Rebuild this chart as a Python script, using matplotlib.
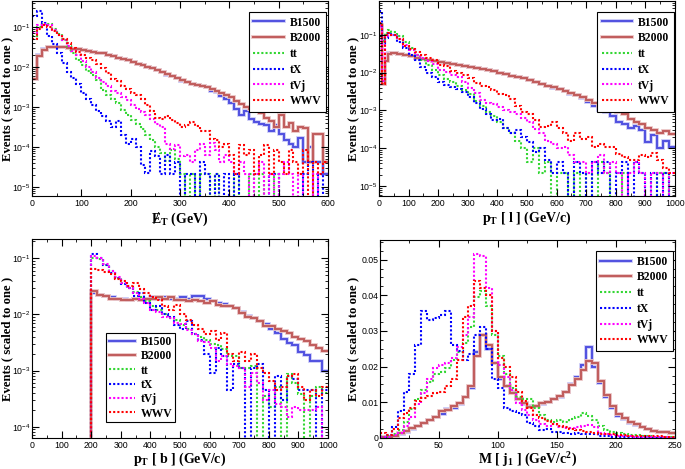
import matplotlib
matplotlib.use('Agg')
import matplotlib.pyplot as plt
import matplotlib.patheffects as pe
import numpy as np
from matplotlib.lines import Line2D
from matplotlib.ticker import (AutoMinorLocator, LogLocator, NullFormatter,
                               FuncFormatter, MultipleLocator)

plt.rcParams['font.family'] = ['Liberation Sans', 'DejaVu Sans']
plt.rcParams['mathtext.fontset'] = 'custom'
plt.rcParams['mathtext.rm'] = 'Liberation Serif:bold'
plt.rcParams['mathtext.it'] = 'Liberation Serif:bold'
plt.rcParams['mathtext.bf'] = 'Liberation Serif:bold'

names = ['B1500', 'B2000', 'tt', 'tX', 'tVj', 'WWV']

# ---- MET, 10 GeV bins
met_edges = np.arange(0, 610, 10)
met_b1500 = [0.005, 0.02, 0.028, 0.031, 0.032, 0.032, 0.031, 0.030, 0.029, 0.028,
             0.027, 0.026, 0.024, 0.023, 0.022, 0.020, 0.019, 0.017, 0.016, 0.0147,
             0.0135, 0.012, 0.011, 0.010, 0.0093, 0.0085, 0.0075, 0.0065, 0.006, 0.0052,
             0.0046, 0.0042, 0.0038, 0.0035, 0.0033, 0.0032, 0.0026, 0.0024, 0.0019, 0.0016,
             0.0013, 9e-4, 6.5e-4, 8e-4, 5e-4, 4.2e-4, 3.8e-4, 3.5e-4, 2.5e-4, 3.5e-4,
             2.1e-4, 1.5e-4, 1.2e-4, 1e-4, 1.7e-4, 4.2e-5, 1e-4, 4.2e-5, 4.2e-5, 2.1e-5]
met_b2000 = [0.005, 0.019, 0.027, 0.031, 0.032, 0.032, 0.031, 0.030, 0.029, 0.028,
             0.027, 0.026, 0.024, 0.023, 0.022, 0.020, 0.019, 0.017, 0.016, 0.0147,
             0.0135, 0.012, 0.011, 0.010, 0.0093, 0.0085, 0.0076, 0.0066, 0.006, 0.0053,
             0.0047, 0.0042, 0.0038, 0.0035, 0.0034, 0.0031, 0.0029, 0.0026, 0.0022, 0.0020,
             0.0018, 0.0014, 0.0012, 0.0010, 9e-4, 9.5e-4, 7e-4, 5.5e-4, 4.6e-4, 3.2e-4,
             6.5e-4, 3.2e-4, 4e-4, 2.6e-4, 3.2e-4, 3e-4, 4.2e-5, 2.1e-4, 2.1e-4, 4.2e-5]
met_tt = [0.06, 0.1, 0.13, 0.12, 0.09, 0.068, 0.048, 0.033, 0.022, 0.015,
          0.011, 0.0082, 0.0062, 0.0048, 0.0027, 0.002, 0.0016, 0.0013, 8.5e-4, 6.5e-4,
          4.8e-4, 3.8e-4, 2.8e-4, 2e-4, 1.5e-4, 1e-4, 7e-5, 4.6e-5, 8.4e-5, 5e-5,
          2.1e-5, 0, 2.1e-5, 0, 2.1e-5, 2.1e-5, 0, 2.1e-5, 0, 0,
          0, 2.1e-5, 0, 0, 2.1e-5, 0, 2.1e-5, 0, 0, 2.1e-5,
          0, 0, 0, 0, 0, 0, 0, 0, 0, 0]
met_tx = [0.19, 0.26, 0.13, 0.06, 0.038, 0.022, 0.013, 0.0075, 0.0052, 0.0038,
          0.0022, 0.0016, 0.0011, 8e-4, 6e-4, 4.5e-4, 3.2e-4, 4.6e-4, 2e-4, 1.2e-4,
          1.6e-4, 1e-4, 3.5e-5, 2.2e-5, 8e-5, 6e-5, 2.1e-5, 6.3e-5, 2.1e-5, 4.2e-5,
          0, 2.1e-5, 2.1e-5, 0, 4.2e-5, 2.1e-5, 0, 2.1e-5, 0, 2.1e-5,
          0, 2.1e-5, 0, 0, 0, 0, 0, 0, 2.1e-5, 2.1e-5,
          0, 0, 0, 0, 0, 2.1e-5, 4.2e-5, 0, 2.1e-5, 0]
met_tvj = [0.07, 0.11, 0.12, 0.11, 0.085, 0.065, 0.047, 0.033, 0.026, 0.02,
           0.0145, 0.01, 0.0075, 0.0055, 0.0042, 0.0034, 0.0026, 0.0022, 0.0018, 0.0015,
           0.0011, 9e-4, 7.5e-4, 6.5e-4, 5e-4, 3.8e-4, 3.2e-4, 1.2e-4, 9e-5, 1.1e-4,
           6e-5, 6.3e-5, 4.2e-5, 8.4e-5, 1.2e-4, 6.3e-5, 1.3e-4, 8.4e-5, 4.2e-5, 6.3e-5,
           4.2e-5, 2.1e-5, 4.2e-5, 2.1e-5, 0, 2.1e-5, 4.2e-5, 0, 2.1e-5, 0,
           2.1e-5, 4.2e-5, 2.1e-5, 0, 2.1e-5, 0, 0, 2.1e-5, 0, 0]
met_wwv = [0.05, 0.09, 0.11, 0.1, 0.08, 0.065, 0.05, 0.039, 0.03, 0.024,
           0.02, 0.017, 0.015, 0.012, 0.0095, 0.007, 0.005, 0.0045, 0.0034, 0.0028,
           0.0022, 0.002, 0.0016, 0.0011, 8e-4, 5.5e-4, 5e-4, 6e-4, 4.8e-4, 4e-4,
           3.2e-4, 3.5e-4, 4.2e-4, 3.4e-4, 2.6e-4, 2.6e-4, 1.6e-4, 1.5e-4, 1e-4, 1.2e-4,
           6.3e-5, 2.1e-5, 1.1e-4, 6.3e-5, 8.4e-5, 2.1e-5, 6.3e-5, 1.1e-4, 2.1e-5, 8.4e-5,
           4.2e-5, 2.1e-5, 8.4e-5, 4.2e-5, 2.1e-5, 8.4e-5, 0, 4.2e-5, 2.1e-5, 4.2e-5]

# ---- pT lepton
ptl_edges = np.r_[0, 10, 20, 30, np.arange(40, 1001, 20)]
ptl_b1500 = [0.16, 0.005, 0.022, 0.032,
             0.032, 0.031, 0.029, 0.028, 0.025, 0.023, 0.021, 0.02,
             0.019, 0.018, 0.017, 0.016, 0.015,
             0.014, 0.0135, 0.0127, 0.012, 0.011,
             0.0098, 0.009, 0.0082, 0.0075, 0.007,
             0.0063, 0.0057, 0.0049, 0.0045, 0.0040,
             0.0036, 0.0033, 0.0027, 0.0025, 0.0021,
             0.0017, 0.0013, 0.0010, 9e-4, 7e-4,
             5e-4, 4.5e-4, 3.5e-4, 3.8e-4, 3e-4,
             1.5e-4, 2.2e-4, 1e-4, 1.6e-4, 1.1e-4]
ptl_b2000 = [0.18, 0.005, 0.02, 0.031,
             0.032, 0.031, 0.029, 0.027, 0.025, 0.023, 0.021, 0.02,
             0.019, 0.018, 0.017, 0.016, 0.015,
             0.0142, 0.0135, 0.0125, 0.012, 0.011,
             0.0098, 0.009, 0.0082, 0.0076, 0.007,
             0.0063, 0.0056, 0.005, 0.0045, 0.0041,
             0.0037, 0.0033, 0.0029, 0.0026, 0.0023,
             0.0019, 0.0016, 0.0013, 0.0015, 0.0011,
             9e-4, 8e-4, 6e-4, 5e-4, 4.5e-4,
             3.5e-4, 3e-4, 2.5e-4, 2.8e-4, 2.4e-4]
ptl_tt = [0.2, 0.07, 0.11, 0.13,
          0.12, 0.09, 0.065, 0.045, 0.03, 0.022, 0.016, 0.012,
          0.0085, 0.0068, 0.0055, 0.0045, 0.0035,
          0.0027, 0.0018, 0.0013, 9e-4, 7e-4,
          5e-4, 3.5e-4, 2.5e-4, 1.6e-4, 1e-4,
          4.4e-5, 1e-4, 2.2e-5, 4.4e-5, 0,
          2.2e-5, 2.2e-5, 0, 2.2e-5, 0,
          2.2e-5, 0, 4.4e-5, 2.2e-5, 0,
          0, 2.2e-5, 0, 0, 0,
          0, 0, 2.2e-5, 2.2e-5, 0]
ptl_tx = [0.42, 0.06, 0.08, 0.11,
          0.1, 0.065, 0.045, 0.03, 0.021, 0.014, 0.01, 0.0075,
          0.0055, 0.0048, 0.0042, 0.0038, 0.003,
          0.0022, 0.0016, 0.0011, 8e-4, 5.5e-4,
          6e-4, 3.5e-4, 2.5e-4, 3e-4, 2e-4,
          1.5e-4, 8e-5, 1e-4, 5e-5, 2.2e-5,
          4.4e-5, 2.2e-5, 0, 4.4e-5, 2.2e-5,
          0, 4.4e-5, 2.2e-5, 4.4e-5, 0,
          2.2e-5, 4.4e-5, 0, 4.4e-5, 2.2e-5,
          0, 2.2e-5, 0, 2.2e-5, 0]
ptl_tvj = [0.17, 0.006, 0.09, 0.1,
           0.1, 0.075, 0.055, 0.04, 0.03, 0.024, 0.02, 0.017,
           0.012, 0.0105, 0.0085, 0.0075, 0.0055,
           0.004, 0.0029, 0.0019, 0.0016, 0.0015,
           0.0012, 0.001, 9e-4, 8e-4, 6.5e-4,
           5e-4, 3.2e-4, 2.5e-4, 1.6e-4, 1.3e-4,
           1e-4, 1.1e-4, 6.6e-5, 4.4e-5, 4.4e-5,
           2.2e-5, 4.4e-5, 6.6e-5, 2.2e-5, 4.4e-5,
           2.2e-5, 0, 2.2e-5, 4.4e-5, 2.2e-5,
           0, 2.2e-5, 2.2e-5, 0, 2.2e-5]
ptl_wwv = [0.2, 0.005, 0.1, 0.11,
           0.1, 0.075, 0.052, 0.042, 0.035, 0.03, 0.025, 0.021,
           0.016, 0.015, 0.011, 0.0095, 0.0088,
           0.007, 0.0052, 0.0045, 0.0042, 0.0035,
           0.0027, 0.0025, 0.002, 0.0013, 9e-4,
           8e-4, 5.5e-4, 3.7e-4, 4e-4, 5e-4,
           3.5e-4, 2.5e-4, 1.6e-4, 2.5e-4, 1.8e-4,
           2e-4, 1.1e-4, 1.3e-4, 1.1e-4, 1.1e-4,
           7e-5, 6e-5, 5e-5, 5e-5, 6.6e-5,
           6e-5, 7.5e-5, 5e-5, 3e-5, 2.2e-5]

# ---- pT b-jet (nothing below 200 GeV)
ptb_edges = np.r_[0, np.arange(200, 1001, 20)]
ptb_b1500 = [0,
             0.024, 0.022, 0.021, 0.02, 0.019,
             0.019, 0.018, 0.019, 0.018, 0.019,
             0.02, 0.019, 0.02, 0.019, 0.019,
             0.02, 0.019, 0.021, 0.021, 0.019,
             0.017, 0.016, 0.0155, 0.014, 0.013,
             0.011, 0.0095, 0.0085, 0.0075, 0.0068,
             0.0055, 0.0047, 0.0036, 0.0031, 0.0028,
             0.0021, 0.0019, 0.0015, 0.0015, 0.001]
ptb_b2000 = [0,
             0.026, 0.022, 0.021, 0.019, 0.019,
             0.018, 0.018, 0.019, 0.018, 0.019,
             0.019, 0.02, 0.019, 0.02, 0.018,
             0.018, 0.017, 0.018, 0.017, 0.016,
             0.017, 0.015, 0.014, 0.014, 0.013,
             0.0105, 0.009, 0.0085, 0.0075, 0.0063,
             0.0063, 0.0055, 0.005, 0.0047, 0.004,
             0.0037, 0.0033, 0.0029, 0.0025, 0.0022]
ptb_tt = [0,
          0.1, 0.095, 0.075, 0.06, 0.045,
          0.036, 0.029, 0.025, 0.02, 0.017,
          0.014, 0.012, 0.01, 0.0085, 0.008,
          0.0065, 0.0055, 0.0045, 0.004, 0.0035,
          0.003, 0.0028, 0.0024, 0.0018, 0.0018,
          0.0011, 0.0011, 0.0012, 0, 3.5e-4,
          2.2e-4, 5e-4, 0, 8.6e-4, 6e-4,
          3.8e-4, 0, 3.5e-4, 5e-4, 4e-4]
ptb_tx = [0,
          0.12, 0.1, 0.075, 0.055, 0.045,
          0.035, 0.03, 0.021, 0.024, 0.016,
          0.012, 0.014, 0.01, 0.009, 0.0065,
          0.0055, 0.0075, 0.0045, 0.0035, 0.002,
          9e-4, 0.0025, 0.0018, 4.5e-4, 0.0013,
          0.0011, 0, 0.0011, 0.0013, 4.5e-4,
          0, 8e-4, 3e-4, 8e-4, 7e-4,
          4.5e-4, 4.5e-4, 4.5e-4, 0, 4.5e-4]
ptb_tvj = [0,
           0.11, 0.1, 0.08, 0.06, 0.047,
           0.036, 0.03, 0.024, 0.019, 0.016,
           0.012, 0.011, 0.009, 0.0085, 0.007,
           0.0068, 0.0052, 0.0045, 0.0034, 0.0032,
           0.0025, 0.0015, 0.0018, 0.0013, 0.0012,
           0.0011, 5e-4, 9e-4, 6e-4, 3e-4,
           4.5e-4, 2.5e-4, 2.2e-4, 1.5e-4, 2.2e-4,
           2e-4, 2e-4, 2e-4, 2.2e-4, 0]
ptb_wwv = [0,
           0.065, 0.062, 0.058, 0.052, 0.043,
           0.04, 0.032, 0.036, 0.028, 0.024,
           0.02, 0.018, 0.014, 0.012, 0.0145,
           0.01, 0.008, 0.0065, 0.0055, 0.0045,
           0.005, 0.0035, 0.0046, 0.002, 0.0015,
           0.0021, 0.0015, 0.002, 0.0011, 9e-4,
           6.6e-4, 4.5e-4, 5e-4, 8e-4, 8.6e-4,
           5e-4, 3e-4, 4.5e-4, 3.5e-4, 5e-4]

# ---- leading jet mass, 5 GeV bins
mj_edges = np.arange(0, 251, 5)
mj_b1500 = [0.0002, 0.0004, 0.0007, 0.0012, 0.0018, 0.0026, 0.0033, 0.0042, 0.005, 0.0058,
            0.0068, 0.008, 0.0085, 0.0095, 0.0115, 0.014, 0.024, 0.029, 0.025, 0.021,
            0.0165, 0.0145, 0.013, 0.011, 0.0095, 0.009, 0.009, 0.0095, 0.01, 0.011,
            0.0115, 0.013, 0.015, 0.017, 0.0205, 0.0255, 0.02, 0.0155, 0.0115, 0.0085,
            0.0063, 0.0052, 0.0043, 0.0036, 0.003, 0.0025, 0.002, 0.0018, 0.0016, 0.0013]
mj_b2000 = [0.0002, 0.0004, 0.0007, 0.0013, 0.0019, 0.0027, 0.0034, 0.0043, 0.005, 0.006,
            0.0075, 0.0078, 0.009, 0.0098, 0.0115, 0.0145, 0.023, 0.029, 0.026, 0.021,
            0.017, 0.0145, 0.0125, 0.011, 0.0098, 0.0088, 0.009, 0.0098, 0.0102, 0.0108,
            0.0118, 0.013, 0.0148, 0.0165, 0.019, 0.0215, 0.021, 0.016, 0.012, 0.009,
            0.0067, 0.0055, 0.0045, 0.0038, 0.0031, 0.0026, 0.0021, 0.0018, 0.0016, 0.0014]
mj_tt = [0.0002, 0.0006, 0.0012, 0.0022, 0.0045, 0.008, 0.011, 0.0135, 0.0158, 0.0178,
         0.0185, 0.0195, 0.022, 0.024, 0.0265, 0.031, 0.0395, 0.0413, 0.037, 0.029,
         0.023, 0.018, 0.014, 0.0115, 0.0108, 0.011, 0.0085, 0.0065, 0.005, 0.0045,
         0.005, 0.0045, 0.0052, 0.006, 0.007, 0.0062, 0.005, 0.0033, 0.0022, 0.0016,
         0.0013, 0.0011, 0.0009, 0.0008, 0.0006, 0.0005, 0.0004, 0.0004, 0.0003, 0.0002]
mj_tx = [0.0003, 0.0008, 0.003, 0.0075, 0.013, 0.018, 0.026, 0.0355, 0.033, 0.0335,
         0.0345, 0.0355, 0.026, 0.0245, 0.022, 0.0235, 0.029, 0.031, 0.025, 0.0165,
         0.014, 0.0085, 0.0075, 0.0071, 0.0065, 0.0042, 0.0035, 0.0022, 0.0025, 0.0018,
         0.0016, 0.0013, 0.0011, 0.0013, 0.0012, 0.0011, 0.001, 0.0006, 0.0007, 0.0004,
         0.0004, 0.0003, 0.0003, 0.0002, 0.0002, 0.0002, 0.0001, 0.0001, 0.0001, 0.0001]
mj_tvj = [0.0002, 0.0004, 0.0008, 0.0015, 0.0035, 0.0058, 0.0095, 0.0125, 0.0165, 0.0195,
          0.0205, 0.021, 0.0225, 0.0255, 0.029, 0.034, 0.0515, 0.051, 0.042, 0.03,
          0.0205, 0.017, 0.0135, 0.0098, 0.0078, 0.0065, 0.005, 0.004, 0.0033, 0.004,
          0.003, 0.0028, 0.0029, 0.0031, 0.0033, 0.0036, 0.0032, 0.0015, 0.0011, 0.0009,
          0.0007, 0.0006, 0.0005, 0.0004, 0.0004, 0.0003, 0.0003, 0.0002, 0.0002, 0.0001]
mj_wwv = [0.0015, 0.0008, 0.0025, 0.0055, 0.007, 0.0085, 0.0105, 0.0112, 0.0118, 0.0125,
          0.013, 0.0145, 0.0165, 0.022, 0.034, 0.037, 0.044, 0.042, 0.04, 0.03,
          0.0225, 0.02, 0.017, 0.013, 0.0105, 0.0085, 0.0065, 0.0055, 0.0048, 0.004,
          0.0033, 0.003, 0.0026, 0.0022, 0.0019, 0.0017, 0.0015, 0.0012, 0.0011, 0.001,
          0.0009, 0.0008, 0.0007, 0.0007, 0.0006, 0.0006, 0.0005, 0.0005, 0.0004, 0.0004]

# Styles
colors = ['#5050e0', '#c05c5c', '#33d633', '#0000ff', '#ff00ff', '#ff0000']
halos = ['#c8c8f6', '#eac2c2', None, None, None, None]
dotted = (0, (1, 1))
label_font = dict(family=['Liberation Serif', 'DejaVu Serif'], weight='bold', size=10)
ylabel_font = dict(family=['Liberation Serif', 'DejaVu Serif'], weight='bold', size=9.2)


def style(i):
    if halos[i] is not None:
        return dict(color=colors[i], lw=1.4, ls='-',
                    path_effects=[pe.Stroke(linewidth=2.7, foreground=halos[i]), pe.Normal()])
    return dict(color=colors[i], lw=1.5, ls=dotted)


def draw(ax, edges, series, logy):
    for i, vals in enumerate(series):
        v = np.asarray(vals, dtype=float)
        if logy:
            v = np.where(v > 0, v, 1e-9)
        st = style(i)
        ax.stairs(v, edges, baseline=None, edgecolor=st['color'], lw=st['lw'],
                  ls=st['ls'], path_effects=st.get('path_effects'))
    ax.tick_params(which='both', direction='in', top=True, right=True, labelsize=6.3)
    ax.tick_params(axis='x', pad=2.5)
    ax.tick_params(axis='y', pad=1.2)
    ax.tick_params(which='major', length=5, width=0.8)
    ax.tick_params(which='minor', length=2.5, width=0.6)
    for s in ax.spines.values():
        s.set_linewidth(0.8)
    if logy:
        ax.set_yscale('log')
        ax.yaxis.set_major_locator(LogLocator(base=10, numticks=12))
        ax.yaxis.set_minor_locator(LogLocator(base=10, subs=np.arange(2, 10), numticks=12))
        ax.yaxis.set_minor_formatter(NullFormatter())
    ax.xaxis.set_minor_locator(AutoMinorLocator(2))
    ax.set_ylabel('Events ( scaled to one )', **ylabel_font)


def legend(ax, loc, anchor, hl=2.6, ls=0.32, bp=0.4):
    handles = [Line2D([], [], **style(i)) for i in range(len(names))]
    leg = ax.legend(handles, names, loc=loc, bbox_to_anchor=anchor, borderaxespad=0,
                    prop=dict(family='Liberation Serif', weight='bold', size=8.4),
                    handlelength=hl, handletextpad=0.5, labelspacing=ls,
                    borderpad=bp, fancybox=False, framealpha=1, edgecolor='black')
    leg.get_frame().set_linewidth(0.8)


fig = plt.figure(figsize=(6.85, 4.69), dpi=100)
ax1 = fig.add_axes([0.0467, 0.5821, 0.4321, 0.4158])
ax2 = fig.add_axes([0.5533, 0.5821, 0.4321, 0.4158])
ax3 = fig.add_axes([0.0467, 0.0661, 0.4321, 0.4243])
ax4 = fig.add_axes([0.5547, 0.0661, 0.4307, 0.4222])

draw(ax1, met_edges, [met_b1500, met_b2000, met_tt, met_tx, met_tvj, met_wwv], True)
ax1.set_xlim(0, 600)
ax1.set_ylim(6e-6, 0.45)
ax1.xaxis.set_major_locator(MultipleLocator(100))
ax1.set_xlabel('Ɇ$_{\\mathrm{T}}$ (GeV)', **label_font)
legend(ax1, 'upper right', (0.993, 0.944))

draw(ax2, ptl_edges, [ptl_b1500, ptl_b2000, ptl_tt, ptl_tx, ptl_tvj, ptl_wwv], True)
ax2.set_xlim(0, 1000)
ax2.set_ylim(5.5e-6, 0.78)
ax2.xaxis.set_major_locator(MultipleLocator(100))
ax2.set_xlabel('p$_{\\mathrm{T}}$ [ l ] (GeV/c)', **label_font)
legend(ax2, 'upper right', (0.997, 0.944))

draw(ax3, ptb_edges, [ptb_b1500, ptb_b2000, ptb_tt, ptb_tx, ptb_tvj, ptb_wwv], True)
ax3.set_xlim(0, 1000)
ax3.set_ylim(6.3e-5, 0.22)
ax3.xaxis.set_major_locator(MultipleLocator(100))
ax3.set_xlabel('p$_{\\mathrm{T}}$ [ b ] (GeV/c)', **label_font)
legend(ax3, 'upper left', (0.25, 0.528), hl=2.2, ls=0.2, bp=0.25)

draw(ax4, mj_edges, [mj_b1500, mj_b2000, mj_tt, mj_tx, mj_tvj, mj_wwv], False)
ax4.set_xlim(0, 250)
ax4.set_ylim(0, 0.0555)
ax4.xaxis.set_major_locator(MultipleLocator(50))
ax4.yaxis.set_major_locator(MultipleLocator(0.01))
ax4.yaxis.set_minor_locator(AutoMinorLocator(4))
ax4.yaxis.set_major_formatter(FuncFormatter(lambda v, p: '0' if abs(v) < 1e-9 else '%.2f' % v))
ax4.set_xlabel('M [ j$_{\\mathrm{1}}$ ] (GeV/c$^{\\mathrm{2}}$)', **label_font)
legend(ax4, 'upper right', (0.993, 0.944))

# Label positions (axes fractions); the y label anchor is its right edge
ax1.yaxis.set_label_coords(-0.064, 0.5)
ax3.yaxis.set_label_coords(-0.064, 0.5)
ax2.yaxis.set_label_coords(-0.0675, 0.5)
ax4.yaxis.set_label_coords(-0.071, 0.5)
ax1.xaxis.set_label_coords(0.5, -0.068)
ax2.xaxis.set_label_coords(0.5, -0.068)
ax3.xaxis.set_label_coords(0.5, -0.066)
ax4.xaxis.set_label_coords(0.5, -0.066)

fig.savefig('out.png', dpi=100, facecolor='white')
